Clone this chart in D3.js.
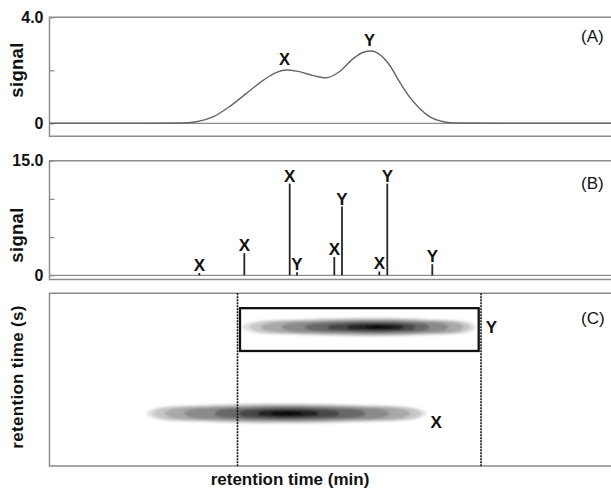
<!DOCTYPE html>
<html>
<head>
<meta charset="utf-8">
<script src="https://cdn.jsdelivr.net/npm/d3@7"></script>
<style>
body { margin: 0; background: #fff; }
svg { display: block; font-family: "Liberation Sans", Arial, sans-serif; }
</style>
</head>
<body>
<svg width="611" height="489"></svg>
<script>
// (A) 1D trace: retention time (min) vs signal
var traceTime = [0, 8, 13, 14.7, 16.4, 18, 19.7, 21.4, 22.7, 23.7, 24.7, 26.4, 27.7, 29, 30.4, 31.4, 32.2, 33, 34, 35, 36, 37, 38, 39.4, 40.7, 45, 57];
var traceSignal = [0, 0, 0.01, 0.06, 0.25, 0.63, 1.13, 1.63, 1.92, 2.01, 1.97, 1.80, 1.72, 1.95, 2.45, 2.68, 2.73, 2.60, 2.20, 1.57, 1.00, 0.57, 0.25, 0.06, 0.01, 0, 0];
var peakNames = ["X", "Y"];
var peakTime = [23.7, 32.2];
var peakSignal = [2.01, 2.73];

// (B) modulated trace: one spike per modulation
var spikeTime = [14.98, 19.48, 24.02, 24.75, 28.48, 29.25, 32.98, 33.78, 38.28];
var spikeSignal = [0.3, 2.9, 12.0, 0.4, 2.4, 9.0, 0.5, 12.0, 1.45];
var spikeNames = ["X", "X", "X", "Y", "X", "Y", "X", "Y", "Y"];

// (C) 2D contour plot: bands from light (outside) to dark (core)
var bandGreys = ["#e2e2e2", "#c6c6c6", "#a8a8a8", "#8a8a8a", "#686868", "#464646", "#242424", "#080808"];
var blobNames = ["X", "Y"];
var blobCenter = [1.52, 4.02];  // 2nd retention time (s)
var blobXStart = [[9.7, 10.3, 11.5, 13.5, 16.5, 19.0, 20.8, 22.2], [19.25, 20.0, 21.2, 23.2, 25.5, 27.8, 29.8, 31.5]];
var blobXPeak  = [[23.0, 23.3, 23.5, 23.6, 23.7, 23.7, 23.7, 23.7], [32.5, 32.7, 32.9, 33.0, 33.0, 33.0, 33.0, 33.0]];
var blobXEnd   = [[37.7, 37.2, 36.1, 34.0, 31.6, 29.0, 26.9, 25.2], [42.65, 42.1, 41.4, 39.9, 38.0, 36.6, 35.4, 34.4]];
var blobHalf   = [[0.30, 0.27, 0.24, 0.21, 0.18, 0.14, 0.10, 0.06], [0.28, 0.25, 0.22, 0.19, 0.16, 0.12, 0.09, 0.05]];
var modulationTimes = [18.8, 43.15];
var boxTime = [19.05, 42.92];
var boxSec = [3.33, 4.57];

var svg = d3.select("svg");
var frameColor = "#8c8c8c";
var labelFont = "'Liberation Sans', Arial, sans-serif";

var x = d3.scaleLinear().domain([0, 56.15]).range([49.5, 611]);
var yA = d3.scaleLinear().domain([-0.49, 4]).range([136.3, 17.3]);
var yB = d3.scaleLinear().domain([-0.55, 15]).range([279.5, 160.7]);
var yC = d3.scaleLinear().domain([0, 5]).range([466, 293.3]);

// frames open on the right side
function frame(top, bottom) {
    svg.append("path")
        .attr("d", "M625," + top + "H" + x(0) + "V" + bottom + "H625")
        .attr("fill", "none")
        .attr("stroke", frameColor)
        .attr("stroke-width", 1.5);
}
frame(yA.range()[1], yA.range()[0]);
frame(yB.range()[1], yB.range()[0]);
frame(yC.range()[1], yC.range()[0]);

function leftAxis(scale, values, fmt) {
    var g = svg.append("g")
        .attr("transform", "translate(" + x(0) + ",0)")
        .call(d3.axisLeft(scale).tickValues(values).tickSizeInner(-5).tickSizeOuter(0).tickPadding(6).tickFormat(fmt));
    g.select(".domain").remove();
    g.selectAll(".tick line").attr("stroke", frameColor).attr("stroke-width", 1.2);
    g.selectAll(".tick text")
        .attr("fill", "#111")
        .style("font-size", "16px")
        .style("font-weight", "bold")
        .style("font-family", labelFont);
}
leftAxis(yA, [0, 2, 4], function(d) { return d == 4 ? "4.0" : d == 0 ? "0" : ""; });
leftAxis(yB, [0, 5, 10, 15], function(d) { return d == 15 ? "15.0" : d == 0 ? "0" : ""; });

// Panel A
svg.append("line")
    .attr("x1", x(0)).attr("x2", 611)
    .attr("y1", yA(0)).attr("y2", yA(0))
    .attr("stroke", frameColor).attr("stroke-width", 1.3);

var trace = traceTime.map(function(t, i) { return [t, traceSignal[i]]; });
svg.append("path")
    .datum(trace)
    .attr("fill", "none")
    .attr("stroke", "#666")
    .attr("stroke-width", 1.4)
    .attr("d", d3.line()
        .x(function(d) { return x(d[0]); })
        .y(function(d) { return yA(d[1]); })
        .curve(d3.curveMonotoneX));

svg.selectAll(".peaklabel")
    .data(peakNames)
    .enter().append("text")
    .attr("x", function(d, i) { return x(peakTime[i]) - 2; })
    .attr("y", function(d, i) { return yA(peakSignal[i]) - 5; })
    .attr("text-anchor", "middle")
    .style("font-size", "16.5px")
    .style("font-weight", "bold")
    .attr("fill", "#111")
    .text(function(d) { return d; });

// Panel B
svg.append("line")
    .attr("x1", x(0)).attr("x2", 611)
    .attr("y1", yB(0)).attr("y2", yB(0))
    .attr("stroke", frameColor).attr("stroke-width", 1.3);

svg.selectAll(".spike")
    .data(spikeTime)
    .enter().append("line")
    .attr("x1", function(d) { return x(d); })
    .attr("x2", function(d) { return x(d); })
    .attr("y1", yB(0))
    .attr("y2", function(d, i) { return yB(spikeSignal[i]); })
    .attr("stroke", "#262626")
    .attr("stroke-width", 1.8);

svg.selectAll(".spikelabel")
    .data(spikeNames)
    .enter().append("text")
    .attr("x", function(d, i) { return x(spikeTime[i]); })
    .attr("y", function(d, i) { return yB(spikeSignal[i]) - 2; })
    .attr("text-anchor", "middle")
    .style("font-size", "17px")
    .style("font-weight", "bold")
    .attr("fill", "#111")
    .text(function(d) { return d; });

// Panel C
var defs = svg.append("defs");
defs.append("filter").attr("id", "soft")
    .attr("x", "-10%").attr("y", "-50%").attr("width", "120%").attr("height", "200%")
    .append("feGaussianBlur").attr("stdDeviation", 1.1);

var bandLine = d3.line().curve(d3.curveCatmullRomClosed);
var blobs = svg.append("g").attr("filter", "url(#soft)");
blobNames.forEach(function(name, b) {
    blobs.selectAll(".band" + b)
        .data(bandGreys)
        .enter().append("path")
        .attr("fill", function(d) { return d; })
        .attr("d", function(d, i) {
            var x0 = blobXStart[b][i], xp = blobXPeak[b][i], x1 = blobXEnd[b][i];
            var c = blobCenter[b], h = blobHalf[b][i];
            var xa = x0 + 0.06 * (xp - x0), xm = x0 + 0.45 * (xp - x0);
            var xb = x1 - 0.06 * (x1 - xp), xn = x1 - 0.45 * (x1 - xp);
            var pts = [[x0, c], [xa, c + 0.5 * h], [xm, c + 0.85 * h], [xp, c + h], [xn, c + 0.85 * h], [xb, c + 0.5 * h],
                       [x1, c], [xb, c - 0.5 * h], [xn, c - 0.85 * h], [xp, c - h], [xm, c - 0.85 * h], [xa, c - 0.5 * h]];
            return bandLine(pts.map(function(p) { return [x(p[0]), yC(p[1])]; }));
        });
});

svg.selectAll(".modline")
    .data(modulationTimes)
    .enter().append("line")
    .attr("x1", function(d) { return x(d); })
    .attr("x2", function(d) { return x(d); })
    .attr("y1", yC.range()[1])
    .attr("y2", yC.range()[0])
    .attr("stroke", "#111")
    .attr("stroke-width", 1.6)
    .attr("stroke-dasharray", "2,1");

svg.append("rect")
    .attr("x", x(boxTime[0]))
    .attr("y", yC(boxSec[1]))
    .attr("width", x(boxTime[1]) - x(boxTime[0]))
    .attr("height", yC(boxSec[0]) - yC(boxSec[1]))
    .attr("fill", "none")
    .attr("stroke", "#111")
    .attr("stroke-width", 2.3);

svg.append("text").attr("x", x(blobXEnd[0][0]) + 4).attr("y", yC(blobCenter[0]) + 14.5)
    .style("font-size", "17px").style("font-weight", "bold").attr("fill", "#111").text("X");
svg.append("text").attr("x", x(boxTime[1]) + 7).attr("y", yC(blobCenter[1]) + 6)
    .style("font-size", "17px").style("font-weight", "bold").attr("fill", "#111").text("Y");

// panel tags
var tags = ["(A)", "(B)", "(C)"];
var tagY = [42, 189, 324];
svg.selectAll(".tag")
    .data(tags)
    .enter().append("text")
    .attr("x", 581)
    .attr("y", function(d, i) { return tagY[i]; })
    .style("font-size", "17px")
    .attr("fill", "#111")
    .text(function(d) { return d; });

// axis titles
function vTitle(txt, cy, size) {
    svg.append("text")
        .attr("transform", "translate(23," + cy + ") rotate(-90)")
        .attr("text-anchor", "middle")
        .style("font-size", size + "px")
        .style("font-weight", "bold")
        .style("letter-spacing", "0.3px")
        .attr("fill", "#111")
        .text(txt);
}
vTitle("signal", 70, 18.5);
vTitle("signal", 235, 18.5);
vTitle("retention time (s)", 377, 17);

svg.append("text")
    .attr("x", 290)
    .attr("y", 485)
    .attr("text-anchor", "middle")
    .style("font-size", "17px")
    .style("font-weight", "bold")
    .attr("fill", "#111")
    .text("retention time (min)");
</script>
</body>
</html>
